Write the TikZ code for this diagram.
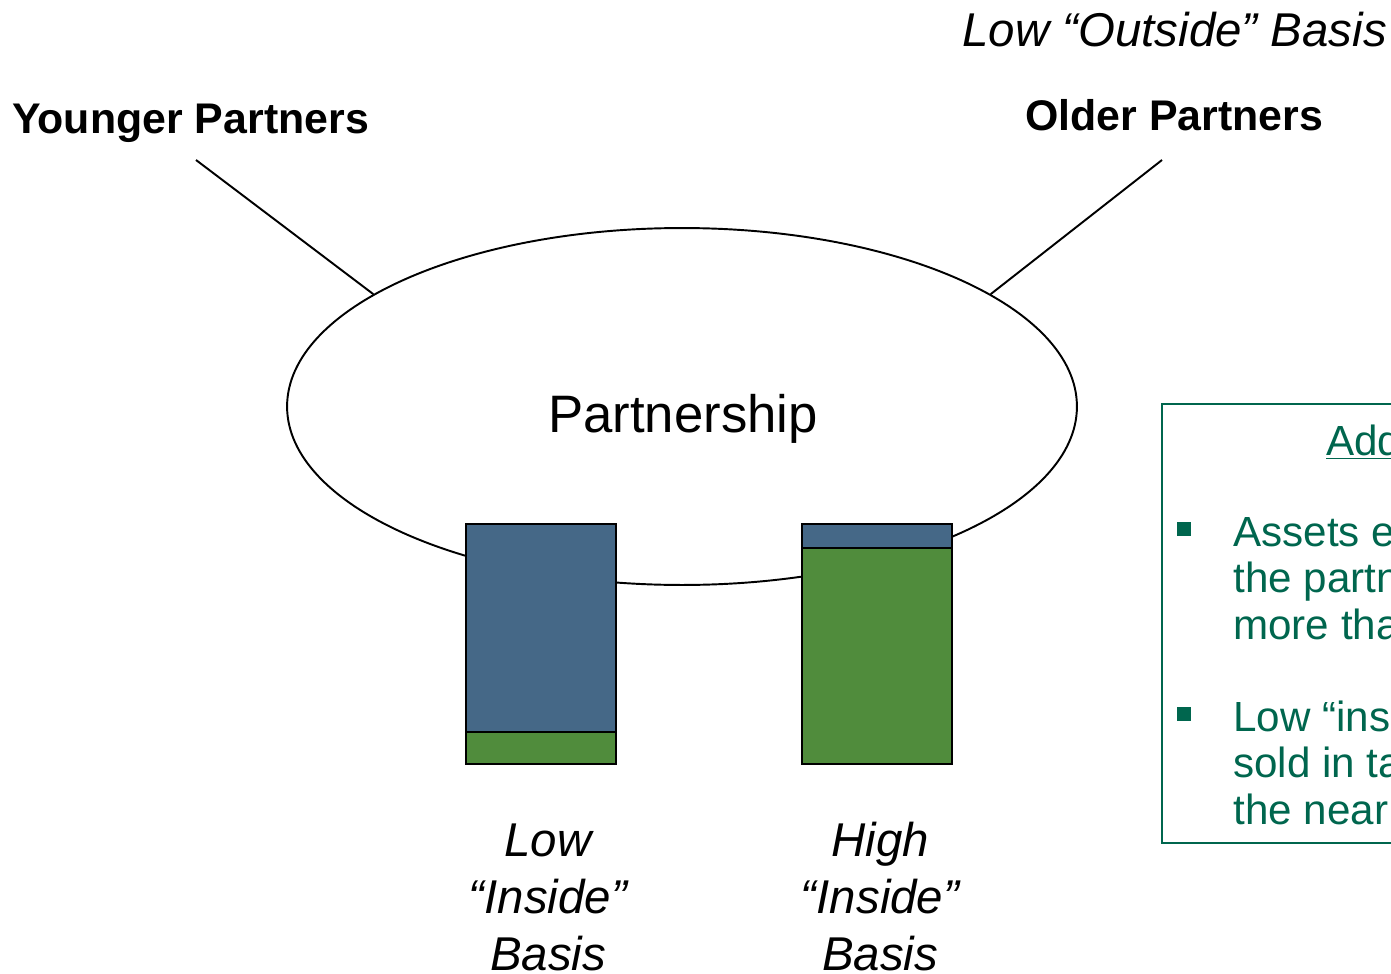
\documentclass[tikz,border=0pt]{standalone}
\usepackage{fontspec}
\setmainfont{Liberation Sans}
\usepackage{xcolor}
\definecolor{ptnBlue}{HTML}{456887}
\definecolor{ptnGreen}{HTML}{508C3C}
\definecolor{noteGreen}{HTML}{00664E}
\usepackage{tikz}
\usetikzlibrary{shapes.geometric}

\begin{document}
\begin{tikzpicture}[x=0.02cm, y=-0.02cm,
    bold label/.style={anchor=base west, inner sep=0pt, font=\bfseries\fontsize{24.4}{28}\selectfont},
    basis label/.style={anchor=base, inner sep=0pt, align=center, font=\itshape\fontsize{27}{32.4}\selectfont},
    note text/.style={anchor=base west, inner sep=0pt, align=left, text=noteGreen, font=\fontsize{24}{26.2}\selectfont},
    bar/.style={line width=1.6pt}]
  \useasboundingbox (0,0) rectangle (1391,973);
  \clip (0,0) rectangle (1391,973);
  % ---- partners and the partnership ----
  \node[basis label, anchor=base west] (outside) at (962,47) {Low “Outside” Basis};
  \node[bold label] (younger) at (12,134) {Younger Partners};
  \node[bold label] (older) at (1025,131) {Older Partners};
  \node[draw, ellipse, line width=1.1pt, minimum width=15.8cm, minimum height=7.14cm,
        inner sep=0pt] (part) at (682,406.5) {};
  \node[anchor=base, inner sep=0pt, font=\fontsize{30}{36}\selectfont] (partlbl) at (683,432) {Partnership};
  \coordinate (younger foot) at (196,160);
  \coordinate (older foot) at (1162,160);
  \draw[line width=1.1pt] (younger foot) -- (part.160.5);
  \draw[line width=1.1pt] (older foot) -- (part.20);
  % ---- (a) low inside basis ----
  \filldraw[bar, fill=ptnBlue] (466,524) rectangle (616,732);
  \filldraw[bar, fill=ptnGreen] (466,732) rectangle (616,764);
  \node[basis label] (lowlbl) at (548,970) {Low\\“Inside”\\Basis};
  % ---- (b) high inside basis ----
  \filldraw[bar, fill=ptnBlue] (802,524) rectangle (952,548);
  \filldraw[bar, fill=ptnGreen] (802,548) rectangle (952,764);
  \node[basis label] (highlbl) at (880,970) {High\\“Inside”\\Basis};
  % ---- note box, cut by the right edge ----
  \draw[noteGreen, line width=1.1pt] (1162,404) rectangle (1420,843);
  \node[note text] (notetitle) at (1326,455) {\underline{Add}};
  \fill[noteGreen] (1177,522) rectangle (1191,536);
  \node[note text] (note1) at (1233,639) {Assets e\\the partn\\more tha};
  \fill[noteGreen] (1177,707) rectangle (1191,721);
  \node[note text] (note2) at (1233,824) {Low “ins\\sold in ta\\the near};
\end{tikzpicture}
\end{document}
